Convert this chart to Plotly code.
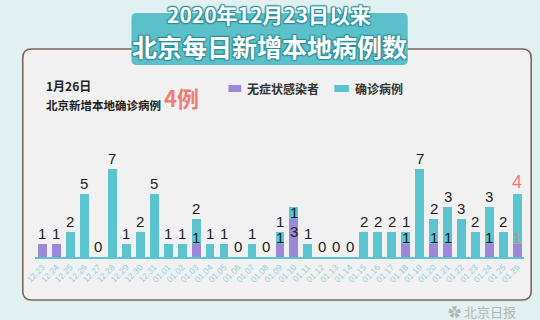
import plotly.graph_objects as go

# ---------------- data ----------------
dates = ["12.23", "12.24", "12.25", "12.26", "12.27", "12.28", "12.29", "12.30", "12.31",
         "01.01", "01.02", "01.03", "01.04", "01.05", "01.06", "01.07", "01.08", "01.09",
         "01.10", "01.11", "01.12", "01.13", "01.14", "01.15", "01.16", "01.17", "01.18",
         "01.19", "01.20", "01.21", "01.22", "01.23", "01.24", "01.25", "01.26"]
confirmed = [0, 0, 2, 5, 0, 7, 1, 2, 5,
             1, 1, 2, 1, 1, 0, 1, 0, 1,
             1, 1, 0, 0, 0, 2, 2, 2, 1,
             7, 2, 3, 3, 2, 3, 2, 4]
asymptomatic = [1, 1, 0, 0, 0, 0, 0, 0, 0,
                0, 0, 1, 0, 0, 0, 0, 0, 1,
                3, 0, 0, 0, 0, 0, 0, 0, 1,
                0, 1, 1, 0, 0, 1, 0, 1]
series_names = ["无症状感染者", "确诊病例"]
title_line1 = "2020年12月23日以来"
title_line2 = "北京每日新增本地病例数"
latest_date = "1月26日"
latest_label = "北京新增本地确诊病例"
latest_value = "4例"
source = "北京日报"

# ---------------- style ----------------
W, H = 540, 320
CYAN = "#5cc4cf"
PURPLE = "#9b88d8"
SALMON = "#ef7d76"
BG = "#e1f0f0"
PANEL = "#f1f1f1"
BORDER = "#7a665c"
BADGE = "#5bc0c9"
NUM_FONT = "Liberation Sans"


def X(px):
    return px / W


def Y(py):
    return 1 - py / H


def rrect(x0, y0, x1, y1, r):
    rx, ry = r / W, r / H
    a, b, c, d = X(x0), Y(y0), X(x1), Y(y1)
    return (f"M {a+rx},{b} L {c-rx},{b} Q {c},{b} {c},{b-ry} "
            f"L {c},{d+ry} Q {c},{d} {c-rx},{d} L {a+rx},{d} "
            f"Q {a},{d} {a},{d+ry} L {a},{b-ry} Q {a},{b} {a+rx},{b} Z")


n = len(dates)
totals = [c + a for c, a in zip(confirmed, asymptomatic)]
last = n - 1

fig = go.Figure()
fig.add_trace(go.Bar(x=dates, y=asymptomatic, name=series_names[0],
                     marker=dict(color=PURPLE, line=dict(width=0)), showlegend=False))
fig.add_trace(go.Bar(x=dates, y=confirmed, name=series_names[1],
                     marker=dict(color=CYAN, line=dict(width=0)), showlegend=False))

annotations = []
# value labels (placed through the data axes; x = category index)
for i in range(n):
    col = SALMON if i == last else "#1d1d1d"
    crowded = confirmed[i] > 0 and asymptomatic[i] >= 3
    top_val = confirmed[i] if confirmed[i] > 0 else asymptomatic[i]
    annotations.append(dict(
        x=i, y=totals[i], xref="x", yref="y", text=str(top_val), showarrow=False,
        xanchor="center", yanchor="top" if crowded else "bottom",
        yshift=5 if crowded else 0,
        font=dict(family=NUM_FONT, size=18 if i == last else 15, color=col)))
    if confirmed[i] > 0 and asymptomatic[i] > 0:
        annotations.append(dict(
            x=i, y=asymptomatic[i], xref="x", yref="y", text=str(asymptomatic[i]),
            showarrow=False, xanchor="center", yanchor="middle",
            yshift=-12 if crowded else 7,
            font=dict(family=NUM_FONT, size=15, color=col)))

shapes = [
    dict(type="path", path=rrect(12, 49, 531, 300, 9), xref="paper", yref="paper",
         fillcolor=PANEL, line=dict(color=BORDER, width=1.6), layer="below"),
    dict(type="path", path=rrect(123, 13, 405, 65, 5), xref="paper", yref="paper",
         fillcolor=BADGE, line=dict(width=0), layer="below"),
    dict(type="rect", xref="paper", yref="paper", x0=X(222), x1=X(235), y0=Y(92), y1=Y(85),
         fillcolor=PURPLE, line=dict(width=0)),
    dict(type="rect", xref="paper", yref="paper", x0=X(330), x1=X(345), y0=Y(92), y1=Y(85),
         fillcolor=CYAN, line=dict(width=0)),
]

CJK = "Noto Sans CJK SC"
shadow = "1px 1px 1px #2c8f9a, -1px -1px 1px #2c8f9a, 1px -1px 1px #2c8f9a, -1px 1px 1px #2c8f9a"
annotations += [
    dict(text=title_line1, x=X(263), y=Y(14.5), xref="paper", yref="paper",
         showarrow=False, xanchor="center", yanchor="middle",
         font=dict(family=CJK, size=21, color="white", weight="bold", shadow=shadow)),
    dict(text=title_line2, x=X(264), y=Y(45.5), xref="paper", yref="paper",
         showarrow=False, xanchor="center", yanchor="middle",
         font=dict(family=CJK, size=25, color="white", weight="bold", shadow=shadow)),
    dict(text=latest_date, x=X(34), y=Y(85), xref="paper", yref="paper",
         showarrow=False, xanchor="left", yanchor="middle",
         font=dict(family=CJK, size=12, color="#222", weight="bold")),
    dict(text=latest_label, x=X(34), y=Y(105), xref="paper", yref="paper",
         showarrow=False, xanchor="left", yanchor="middle",
         font=dict(family=CJK, size=11.5, color="#222", weight="bold")),
    dict(text=latest_value, x=X(154), y=Y(97), xref="paper", yref="paper",
         showarrow=False, xanchor="left", yanchor="middle",
         font=dict(family=CJK, size=22, color=SALMON, weight="bold")),
    dict(text=series_names[0], x=X(239), y=Y(88.5), xref="paper", yref="paper",
         showarrow=False, xanchor="left", yanchor="middle",
         font=dict(family=CJK, size=12, color="#333", weight="bold")),
    dict(text=series_names[1], x=X(349), y=Y(88.5), xref="paper", yref="paper",
         showarrow=False, xanchor="left", yanchor="middle",
         font=dict(family=CJK, size=12, color="#333", weight="bold")),
    dict(text="✿ " + source, x=X(518), y=Y(311), xref="paper", yref="paper",
         showarrow=False, xanchor="right", yanchor="middle",
         font=dict(family=CJK, size=13, color="#b5b5b5")),
]

fig.update_layout(
    width=W, height=H,
    margin=dict(l=0, r=0, t=0, b=0),
    paper_bgcolor=BG, plot_bgcolor="rgba(0,0,0,0)",
    barmode="stack", bargap=0.37,
    showlegend=False,
    shapes=shapes, annotations=annotations,
    xaxis=dict(domain=[X(25), X(524)], type="category", tickangle=-45,
               range=[-0.5, n - 0.5],
               showline=True, linecolor=CYAN, linewidth=2, showgrid=False, zeroline=False,
               ticks="", tickfont=dict(size=8.5, color="#92d0d8", family="Liberation Sans"),
               fixedrange=True),
    yaxis=dict(domain=[Y(257), Y(156.2)], range=[0, 8], visible=False, fixedrange=True),
)

fig.write_html("out.html")
